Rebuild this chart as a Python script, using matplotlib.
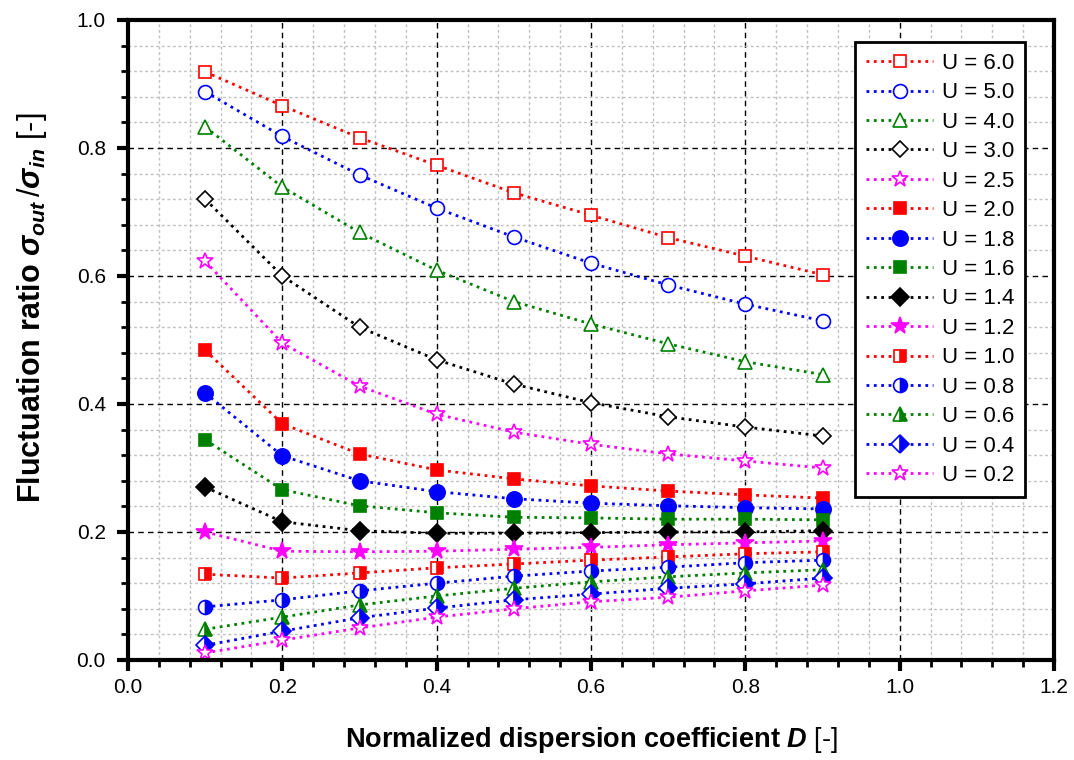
import numpy as np
import matplotlib.pyplot as plt
from matplotlib.ticker import MultipleLocator, FormatStrFormatter

plt.rcParams['font.family'] = ['Liberation Sans', 'DejaVu Sans']
plt.rcParams['mathtext.fontset'] = 'custom'
plt.rcParams['mathtext.rm'] = 'Liberation Sans'
plt.rcParams['mathtext.it'] = 'Liberation Sans:italic'
plt.rcParams['mathtext.bf'] = 'Liberation Sans:bold'
plt.rcParams['mathtext.bfit'] = 'Liberation Sans:italic:bold'

# 数据
D = [0.1, 0.2, 0.3, 0.4, 0.5, 0.6, 0.7, 0.8, 0.9]
labels = ['U = 6.0', 'U = 5.0', 'U = 4.0', 'U = 3.0', 'U = 2.5', 'U = 2.0', 'U = 1.8',
          'U = 1.6', 'U = 1.4', 'U = 1.2', 'U = 1.0', 'U = 0.8', 'U = 0.6', 'U = 0.4', 'U = 0.2']
u60 = [0.919, 0.866, 0.816, 0.773, 0.730, 0.695, 0.660, 0.631, 0.602]
u50 = [0.888, 0.818, 0.758, 0.706, 0.661, 0.620, 0.586, 0.556, 0.530]
u40 = [0.833, 0.739, 0.668, 0.609, 0.560, 0.525, 0.494, 0.466, 0.446]
u30 = [0.720, 0.600, 0.520, 0.469, 0.431, 0.402, 0.380, 0.364, 0.350]
u25 = [0.623, 0.495, 0.428, 0.384, 0.356, 0.337, 0.322, 0.311, 0.300]
u20 = [0.484, 0.369, 0.322, 0.297, 0.283, 0.272, 0.264, 0.258, 0.253]
u18 = [0.417, 0.319, 0.280, 0.263, 0.252, 0.245, 0.241, 0.238, 0.236]
u16 = [0.344, 0.266, 0.241, 0.230, 0.223, 0.222, 0.220, 0.220, 0.219]
u14 = [0.270, 0.216, 0.202, 0.198, 0.198, 0.199, 0.200, 0.200, 0.202]
u12 = [0.200, 0.170, 0.169, 0.170, 0.173, 0.176, 0.180, 0.183, 0.186]
u10 = [0.134, 0.128, 0.136, 0.144, 0.150, 0.156, 0.161, 0.166, 0.169]
u08 = [0.083, 0.094, 0.108, 0.120, 0.131, 0.139, 0.145, 0.152, 0.156]
u06 = [0.048, 0.067, 0.086, 0.100, 0.112, 0.122, 0.130, 0.136, 0.141]
u04 = [0.023, 0.045, 0.066, 0.081, 0.094, 0.103, 0.112, 0.119, 0.128]
u02 = [0.011, 0.031, 0.050, 0.067, 0.080, 0.091, 0.098, 0.108, 0.117]
series = [u60, u50, u40, u30, u25, u20, u18, u16, u14, u12, u10, u08, u06, u04, u02]

R, B, G, K, M = '#FF0000', '#0000FF', '#008000', '#000000', '#FF00FF'
colors = [R, B, G, K, M, R, B, G, K, M, R, B, G, B, M]
markers = ['s', 'o', '^', 'D', '*', 's', 'o', 's', 'D', '*', 's', 'o', '^', 'D', '*']
fills = ['none'] * 5 + ['full'] * 5 + ['right'] * 4 + ['none']
sizes = [9, 10, 10, 8, 12, 9, 11, 9, 9, 13, 9, 10, 10, 9, 12]

fig = plt.figure(figsize=(10.74, 7.6), dpi=100)
ax = fig.add_axes([0.1192, 0.1316, 0.8622, 0.8421])

for y, lab, c, m, f, s in zip(series, labels, colors, markers, fills, sizes):
    if f == 'none':
        ax.plot(D, y, linestyle=':', linewidth=2, color=c, marker=m, markersize=s,
                markerfacecolor='white', markeredgecolor=c, markeredgewidth=1.2, label=lab)
    else:
        ax.plot(D, y, linestyle=':', linewidth=2, color=c, marker=m, markersize=s,
                fillstyle=f, markerfacecoloralt='white', markeredgecolor=c,
                markeredgewidth=1.2, label=lab)

ax.set_xlim(0, 1.2)
ax.set_ylim(0, 1.0)
ax.xaxis.set_major_locator(MultipleLocator(0.2))
ax.xaxis.set_minor_locator(MultipleLocator(0.04))
ax.yaxis.set_major_locator(MultipleLocator(0.2))
ax.yaxis.set_minor_locator(MultipleLocator(0.04))
ax.xaxis.set_major_formatter(FormatStrFormatter('%.1f'))
ax.yaxis.set_major_formatter(FormatStrFormatter('%.1f'))

ax.grid(which='minor', color='#C0C0C0', linestyle=(0, (2, 2)), linewidth=1)
ax.grid(which='major', color='black', linestyle=(0, (4, 3)), linewidth=1)
ax.set_axisbelow(True)

for sp in ax.spines.values():
    sp.set_linewidth(3)
ax.tick_params(which='major', direction='out', length=8, width=3, labelsize=15)
ax.tick_params(which='minor', direction='out', length=5, width=2)
ax.tick_params(axis='x', which='major', pad=5)
ax.tick_params(axis='y', which='major', pad=8)

ax.set_xlabel('Normalized dispersion coefficient $\\mathbfit{D}$ $\\mathrm{[\u2010]}$',
              fontsize=19.5, fontweight='bold', labelpad=20)
ax.set_ylabel('Fluctuation ratio $\\mathbfit{\\sigma}_{\\mathbfit{out}}\\,/'
              '\\mathbfit{\\sigma}_{\\mathbfit{in}}$ $\\mathrm{[\u2010]}$',
              fontsize=22, fontweight='bold')
ax.yaxis.set_label_coords(-0.085, 0.55)

leg = ax.legend(loc='upper right', bbox_to_anchor=(0.969, 0.966), fontsize=16,
                frameon=True, fancybox=False, framealpha=1, edgecolor='black',
                handlelength=3.0, labelspacing=0.38, borderpad=0.5, handletextpad=0.4,
                borderaxespad=0)
leg.get_frame().set_linewidth(2)

plt.savefig('out.png', dpi=100)
